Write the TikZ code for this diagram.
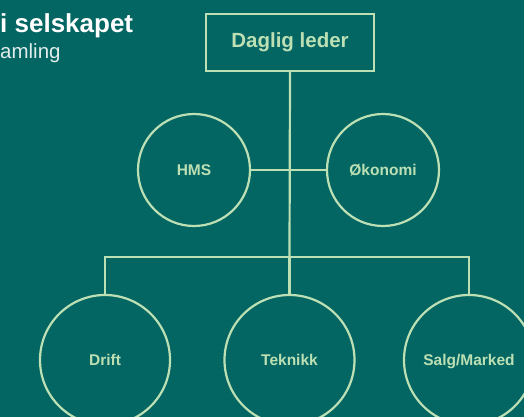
\documentclass[tikz,border=0pt]{standalone}
\usepackage{fontspec}
\setmainfont{Liberation Sans}
\definecolor{bgteal}{HTML}{036663}
\definecolor{lgreen}{HTML}{BCE0B4}
\definecolor{subgray}{HTML}{E2ECEA}
\begin{document}
\begin{tikzpicture}[x=1pt,y=1pt,
  lead/.style={draw=lgreen,line width=2.2pt,minimum width=168pt,minimum height=57pt,inner sep=0pt,text=lgreen,font=\fontsize{20.5}{24}\selectfont\bfseries},
  smallcirc/.style={circle,draw=lgreen,line width=2.2pt,minimum size=112pt,inner sep=0pt,text=lgreen,text height=11pt,text depth=0pt,font=\fontsize{15.5}{18}\selectfont\bfseries},
  bigcirc/.style={circle,draw=lgreen,line width=2.2pt,minimum size=130pt,inner sep=0pt,text=lgreen,text height=11pt,text depth=0pt,font=\fontsize{15.5}{18}\selectfont\bfseries},
  conn/.style={draw=lgreen,line width=2.2pt}]
\fill[bgteal] (0,0) rectangle (524,-417);
\useasboundingbox (0,0) rectangle (524,-417);
\clip (0,0) rectangle (524,-417);
\node[anchor=base west,inner sep=0pt,text=white,font=\fontsize{26}{30}\selectfont\bfseries] (title) at (0,-33) {i selskapet};
\node[anchor=base west,inner sep=0pt,text=subgray,font=\fontsize{20.5}{24}\selectfont] (sub) at (0,-59) {amling};
\node[lead] (boss) at (290,-42.5) {Daglig leder};
\node[smallcirc] (hms) at (194,-170) {HMS};
\node[smallcirc] (oko) at (383,-170) {Økonomi};
\node[bigcirc] (drift) at (105,-360) {Drift};
\node[bigcirc] (tek) at (289.5,-360) {Teknikk};
\node[bigcirc] (salg) at (469,-360) {Salg/Marked};
\coordinate (junc) at (289.5,-257);
\draw[conn] (boss.south) -- (junc);
\draw[conn] (hms.east) -- (oko.west);
\draw[conn] (drift.north) |- (junc) -| (salg.north);
\draw[conn] (junc) -- (tek.north);
\end{tikzpicture}
\end{document}
